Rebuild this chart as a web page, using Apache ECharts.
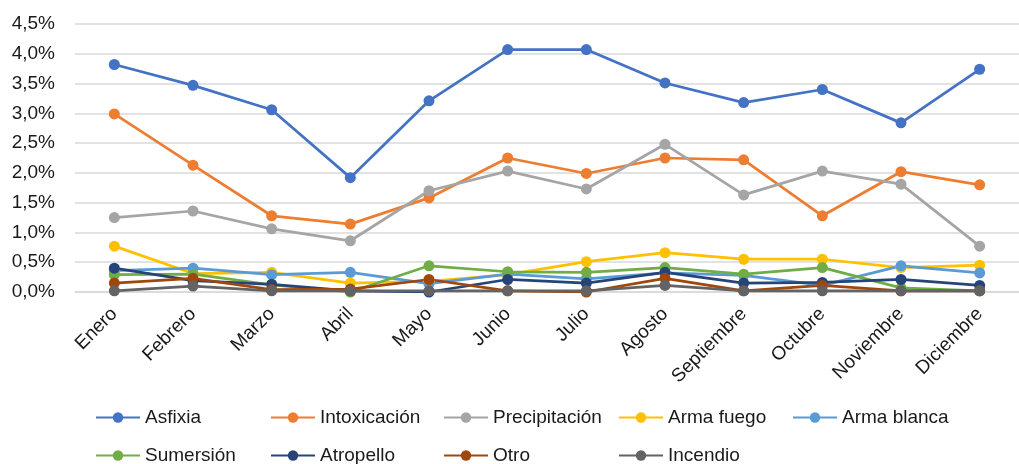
<!DOCTYPE html>
<html>
<head>
<meta charset="utf-8">
<script src="https://cdn.jsdelivr.net/npm/echarts@6/dist/echarts.min.js"></script>
<style>
	html, body { margin: 0; padding: 0; background: #fff; }
	#chart { width: 1019px; height: 464px; }
</style>
</head>
<body>
<div id="chart"></div>
<script>
	// meses
	var meses = ['Enero', 'Febrero', 'Marzo', 'Abril', 'Mayo', 'Junio', 'Julio', 'Agosto', 'Septiembre', 'Octubre', 'Noviembre', 'Diciembre'];

	// valores en %
	var asfixia       = [3.82, 3.47, 3.06, 1.92, 3.21, 4.07, 4.07, 3.51, 3.18, 3.40, 2.84, 3.74];
	var intoxicacion  = [2.99, 2.13, 1.28, 1.14, 1.58, 2.25, 1.99, 2.25, 2.22, 1.28, 2.02, 1.80];
	var precipitacion = [1.25, 1.36, 1.06, 0.86, 1.70, 2.03, 1.73, 2.48, 1.63, 2.03, 1.81, 0.77];
	var armaFuego     = [0.77, 0.31, 0.33, 0.15, 0.18, 0.29, 0.51, 0.66, 0.55, 0.55, 0.41, 0.45];
	var armaBlanca    = [0.36, 0.40, 0.29, 0.33, 0.14, 0.30, 0.22, 0.32, 0.28, 0.11, 0.44, 0.32];
	var sumersion     = [0.29, 0.30, 0.12, 0.00, 0.44, 0.34, 0.33, 0.41, 0.30, 0.41, 0.07, 0.02];
	var atropello     = [0.40, 0.19, 0.13, 0.02, 0.00, 0.21, 0.15, 0.33, 0.15, 0.16, 0.21, 0.11];
	var otro          = [0.15, 0.23, 0.04, 0.05, 0.21, 0.02, 0.00, 0.23, 0.02, 0.11, 0.02, 0.02];
	var incendio      = [0.02, 0.10, 0.02, 0.02, 0.02, 0.02, 0.02, 0.11, 0.02, 0.02, 0.02, 0.02];

	var nombres = ['Asfixia', 'Intoxicación', 'Precipitación', 'Arma fuego', 'Arma blanca', 'Sumersión', 'Atropello', 'Otro', 'Incendio'];
	var datos = [asfixia, intoxicacion, precipitacion, armaFuego, armaBlanca, sumersion, atropello, otro, incendio];
	var colores = ['#4472C4', '#ED7D31', '#A5A5A5', '#FFC000', '#5B9BD5', '#70AD47', '#264478', '#9E480E', '#636363'];

	var fuente = "'Liberation Sans', Arial, sans-serif";

	var series = nombres.map(function (n, i) {
		return {
			name: n,
			type: 'line',
			data: datos[i],
			symbol: 'circle',
			symbolSize: 11,
			lineStyle: { width: 2.75, color: colores[i] },
			itemStyle: { color: colores[i] },
			animation: false
		}
	})

	// leyenda en rejilla (como excel): una leyenda por elemento
	var colX = [90, 265, 438, 613, 787];
	var filaY = [403, 441];
	var legends = nombres.map(function (n, i) {
		return {
			left: colX[i % 5],
			top: filaY[Math.floor(i / 5)],
			itemWidth: 44,
			itemHeight: 13,
			data: [n],
			textStyle: { fontFamily: fuente, fontSize: 19, color: '#1a1a1a' }
		}
	})

	var chart = echarts.init(document.getElementById('chart'), null, { renderer: 'canvas' });
	chart.setOption({
		animation: false,
		color: colores,
		grid: {
			left: 75,
			top: 24,
			width: 953,
			height: 268,
			containLabel: false
		},
		legend: legends,
		xAxis: {
			type: 'category',
			data: meses,
			boundaryGap: true,
			axisTick: { show: false },
			axisLine: { lineStyle: { color: '#d9d9d9', width: 1.5 } },
			axisLabel: {
				rotate: 45,
				interval: 0,
				margin: 19,
				fontFamily: fuente,
				fontSize: 19,
				color: '#1a1a1a'
			}
		},
		yAxis: {
			type: 'value',
			min: 0,
			max: 4.5,
			interval: 0.5,
			axisLine: { show: false },
			axisTick: { show: false },
			splitLine: { lineStyle: { color: '#d9d9d9', width: 1.5 } },
			axisLabel: {
				margin: 20,
				fontFamily: fuente,
				fontSize: 19,
				color: '#1a1a1a',
				formatter: function (v) { return v.toFixed(1).replace('.', ',') + '%' }
			}
		},
		series: series
	});
</script>
</body>
</html>
